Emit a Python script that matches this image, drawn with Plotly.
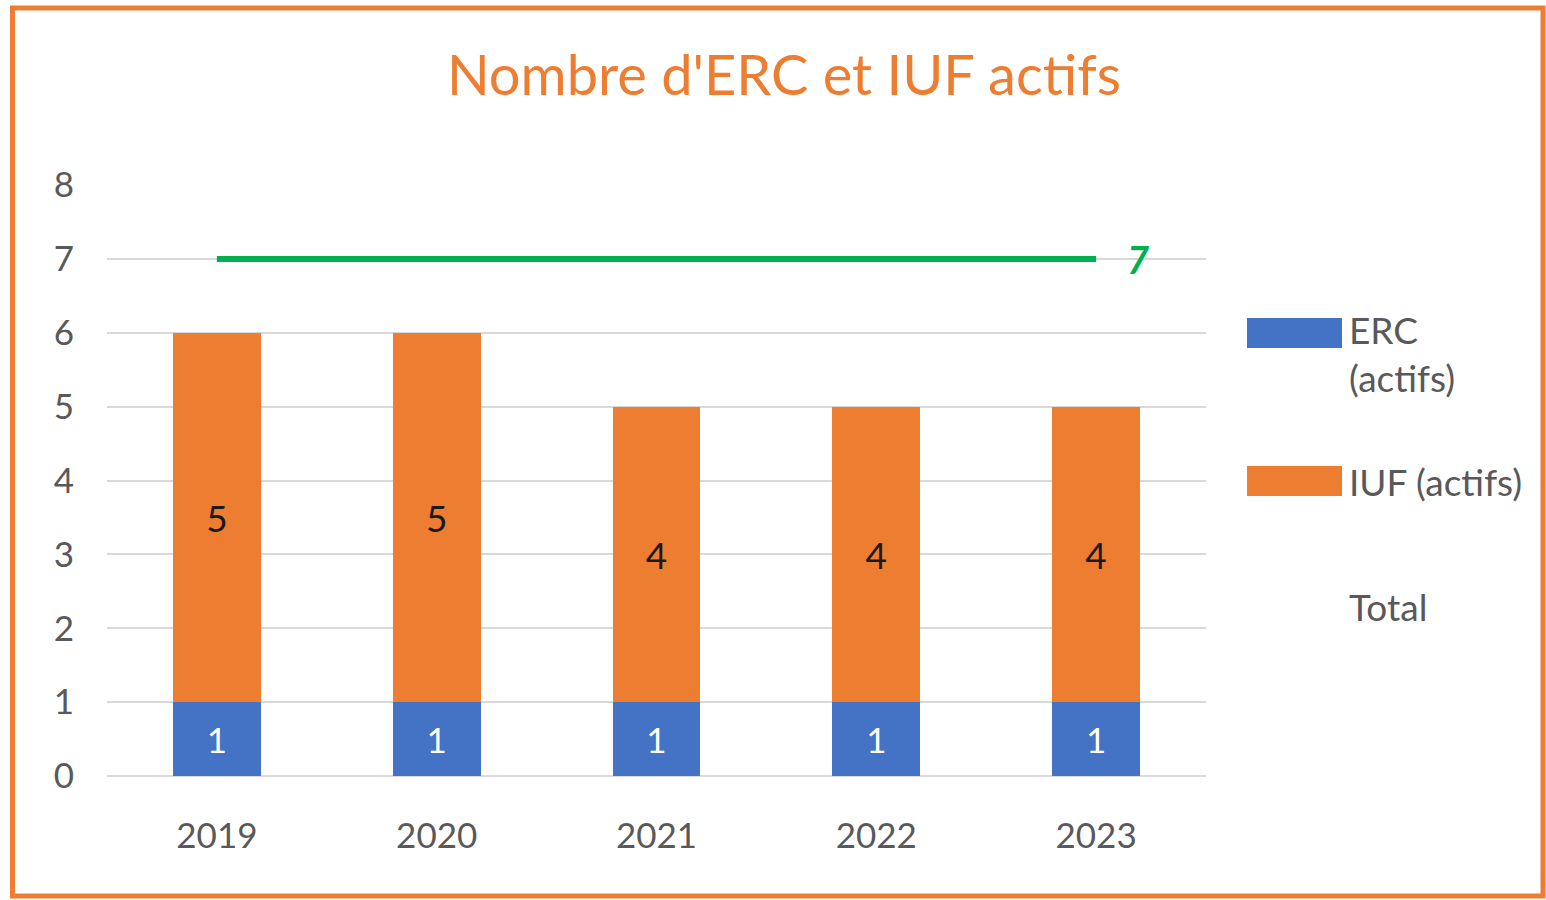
import plotly.graph_objects as go

years = ["2019", "2020", "2021", "2022", "2023"]
erc = [1, 1, 1, 1, 1]
iuf = [5, 5, 4, 4, 4]
total = [7, 7, 7, 7, 7]
y_ticks = [0, 1, 2, 3, 4, 5, 6, 7, 8]

BLUE = "#4472C4"
ORANGE = "#ED7D31"
GREEN = "#00B050"
GREY = "#595959"
FONT = "Lato"

W, H = 1546, 900
# target screen coordinates of plot area
SL, SR, ST, SB = 107, 1206, 185, 776
L, T = SL, ST
R = W - SR
B = H - SB
PW, PH = SR - SL, SB - ST


def px(x):
    return (x - SL) / PW


def py(y):
    return (SB - y) / PH


fig = go.Figure()
fig.add_trace(go.Bar(
    x=years, y=erc, name="ERC (actifs)", marker=dict(color=BLUE, line=dict(width=0)),
    text=[str(v) for v in erc], textposition="inside", insidetextanchor="middle",
    textfont=dict(family=FONT, size=35, color="white"), showlegend=False,
))
fig.add_trace(go.Bar(
    x=years, y=iuf, name="IUF (actifs)", marker=dict(color=ORANGE, line=dict(width=0)),
    text=[str(v) for v in iuf], textposition="inside", insidetextanchor="middle",
    textfont=dict(family=FONT, size=37, color="#1a1a1a"), showlegend=False,
))
fig.add_trace(go.Scatter(
    x=years, y=total, name="Total", mode="lines",
    line=dict(color=GREEN, width=6), showlegend=False,
))
fig.add_annotation(
    x=len(years) - 1, y=total[-1], text=str(total[-1]), showarrow=False,
    xanchor="center", yanchor="middle", xshift=42, yshift=0,
    font=dict(family=FONT, size=38, color=GREEN, weight="bold", style="italic"),
)

# custom legend
legend_items = [
    ("ERC<br>(actifs)", BLUE, 333, 2),
    ("IUF (actifs)", ORANGE, 481, 1),
    ("Total", None, 606, 1),
]
for label, color, yc, nlines in legend_items:
    if color:
        fig.add_shape(type="rect", xref="paper", yref="paper",
                      x0=px(1247), x1=px(1342), y0=py(yc + 15), y1=py(yc - 15),
                      fillcolor=color, line=dict(width=0), layer="above")
    if nlines == 1:
        fig.add_annotation(xref="paper", yref="paper", x=px(1347), y=py(yc),
                           text=label, showarrow=False, xanchor="left", yanchor="middle",
                           align="left", font=dict(family=FONT, size=37, color=GREY))
    else:
        fig.add_annotation(xref="paper", yref="paper", x=px(1347), y=py(yc - 28),
                           text=label, showarrow=False, xanchor="left", yanchor="top",
                           align="left", font=dict(family=FONT, size=37, color=GREY))

# frame
fig.add_shape(type="rect", xref="paper", yref="paper",
              x0=px(12.5), x1=px(1543), y0=py(896), y1=py(8),
              line=dict(color=ORANGE, width=5), fillcolor="rgba(0,0,0,0)", layer="above")

fig.update_layout(
    width=W, height=H,
    margin=dict(l=L, r=R, t=T, b=B, autoexpand=False),
    barmode="stack", bargap=0.6,
    paper_bgcolor="white", plot_bgcolor="white",
    title=dict(text="Nombre d'ERC et IUF actifs", x=784 / W, xanchor="center",
               y=1 - 75 / H, yanchor="middle",
               font=dict(family=FONT, size=56, color=ORANGE)),
    font=dict(family=FONT, color=GREY),
)
fig.update_xaxes(type="category", categoryorder="array", categoryarray=years,
                 range=[-0.5, len(years) - 0.5], autorange=False,
                 showgrid=False, showline=False, ticks="",
                 tickfont=dict(family=FONT, size=35, color=GREY), ticklabelstandoff=36)
fig.update_yaxes(range=[0, 8], tickvals=y_ticks, showgrid=True, gridcolor="#D9D9D9",
                 gridwidth=2, zeroline=True, zerolinecolor="#D9D9D9", zerolinewidth=2,
                 showline=False, ticks="", tickfont=dict(family=FONT, size=35, color=GREY),
                 ticklabelstandoff=32)

fig.write_html(
    "out.html",
    config={"displayModeBar": False},
    post_script="document.body.style.margin='0';document.body.style.overflow='hidden';",
)
